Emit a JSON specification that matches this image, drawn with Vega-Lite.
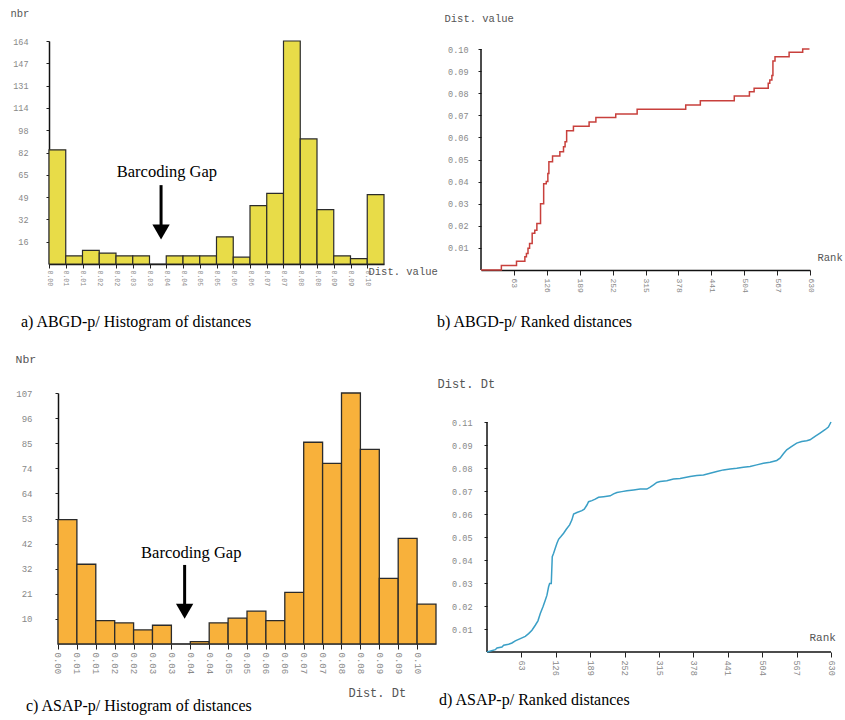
{
  "$schema": "https://vega.github.io/schema/vega-lite/v6.json",
  "padding": {"left": 10, "top": 8, "right": 5, "bottom": 5},
  "background": "white",
  "config": {
    "view": {"stroke": null},
    "font": "Liberation Mono",
    "axis": {
      "grid": false,
      "labelFont": "Liberation Mono",
      "labelColor": "#888888",
      "titleFont": "Liberation Mono",
      "titleFontWeight": "normal",
      "titleColor": "#555555",
      "titleFontSize": 10.5,
      "titleAngle": 0,
      "tickColor": "#222222",
      "domainColor": "#111111",
      "labelOverlap": false,
      "labelFlush": false,
      "tickCount": 40
    },
    "title": {"font": "Liberation Serif", "fontSize": 16, "fontWeight": "normal", "color": "#000000", "orient": "bottom", "anchor": "start"}
  },
  "datasets": {
    "histA": [
      {"bin": 0, "bin_end": 1, "count": 84}, {"bin": 1, "bin_end": 2, "count": 6}, {"bin": 2, "bin_end": 3, "count": 10},
      {"bin": 3, "bin_end": 4, "count": 8}, {"bin": 4, "bin_end": 5, "count": 6}, {"bin": 5, "bin_end": 6, "count": 6},
      {"bin": 6, "bin_end": 7, "count": 0}, {"bin": 7, "bin_end": 8, "count": 6}, {"bin": 8, "bin_end": 9, "count": 6},
      {"bin": 9, "bin_end": 10, "count": 6}, {"bin": 10, "bin_end": 11, "count": 20}, {"bin": 11, "bin_end": 12, "count": 5},
      {"bin": 12, "bin_end": 13, "count": 43}, {"bin": 13, "bin_end": 14, "count": 52}, {"bin": 14, "bin_end": 15, "count": 164},
      {"bin": 15, "bin_end": 16, "count": 92}, {"bin": 16, "bin_end": 17, "count": 40}, {"bin": 17, "bin_end": 18, "count": 6},
      {"bin": 18, "bin_end": 19, "count": 4}, {"bin": 19, "bin_end": 20, "count": 51}
    ],
    "histC": [
      {"bin": 0, "bin_end": 1, "count": 53}, {"bin": 1, "bin_end": 2, "count": 34}, {"bin": 2, "bin_end": 3, "count": 10},
      {"bin": 3, "bin_end": 4, "count": 9}, {"bin": 4, "bin_end": 5, "count": 6}, {"bin": 5, "bin_end": 6, "count": 8},
      {"bin": 6, "bin_end": 7, "count": 0}, {"bin": 7, "bin_end": 8, "count": 1}, {"bin": 8, "bin_end": 9, "count": 9},
      {"bin": 9, "bin_end": 10, "count": 11}, {"bin": 10, "bin_end": 11, "count": 14}, {"bin": 11, "bin_end": 12, "count": 10},
      {"bin": 12, "bin_end": 13, "count": 22}, {"bin": 13, "bin_end": 14, "count": 86}, {"bin": 14, "bin_end": 15, "count": 77},
      {"bin": 15, "bin_end": 16, "count": 107}, {"bin": 16, "bin_end": 17, "count": 83}, {"bin": 17, "bin_end": 18, "count": 28},
      {"bin": 18, "bin_end": 19, "count": 45}, {"bin": 19, "bin_end": 20, "count": 17}
    ],
    "rankB": [
      {"rank": 0, "dist": 0}, {"rank": 39, "dist": 0.002}, {"rank": 68, "dist": 0.004}, {"rank": 84, "dist": 0.006},
      {"rank": 87, "dist": 0.0075}, {"rank": 90, "dist": 0.0098}, {"rank": 93, "dist": 0.012}, {"rank": 98, "dist": 0.0166},
      {"rank": 103, "dist": 0.018}, {"rank": 107, "dist": 0.021}, {"rank": 114, "dist": 0.030}, {"rank": 120, "dist": 0.039},
      {"rank": 125, "dist": 0.040}, {"rank": 128, "dist": 0.0437}, {"rank": 130, "dist": 0.049}, {"rank": 137, "dist": 0.0516},
      {"rank": 151, "dist": 0.0535}, {"rank": 158, "dist": 0.0558}, {"rank": 161, "dist": 0.058}, {"rank": 164, "dist": 0.063},
      {"rank": 177, "dist": 0.065}, {"rank": 207, "dist": 0.067}, {"rank": 220, "dist": 0.069}, {"rank": 258, "dist": 0.0706},
      {"rank": 299, "dist": 0.0727}, {"rank": 392, "dist": 0.0747}, {"rank": 420, "dist": 0.0766}, {"rank": 485, "dist": 0.0787},
      {"rank": 514, "dist": 0.0807}, {"rank": 523, "dist": 0.0822}, {"rank": 550, "dist": 0.0845}, {"rank": 553, "dist": 0.086},
      {"rank": 557, "dist": 0.088}, {"rank": 559, "dist": 0.0946}, {"rank": 563, "dist": 0.0965}, {"rank": 590, "dist": 0.0985},
      {"rank": 616, "dist": 0.100}, {"rank": 629, "dist": 0.100}
    ],
    "rankD": [
      {"rank": 0, "dist": 0}, {"rank": 15.2, "dist": 0.0011}, {"rank": 18.3, "dist": 0.0019}, {"rank": 27.4, "dist": 0.0024},
      {"rank": 30.5, "dist": 0.0032}, {"rank": 39.6, "dist": 0.0037}, {"rank": 45.7, "dist": 0.0043}, {"rank": 51.8, "dist": 0.0053},
      {"rank": 61.0, "dist": 0.0064}, {"rank": 70.1, "dist": 0.0075}, {"rank": 76.2, "dist": 0.0088}, {"rank": 82.3, "dist": 0.0104},
      {"rank": 88.4, "dist": 0.0128}, {"rank": 93.3, "dist": 0.0149}, {"rank": 97.6, "dist": 0.0184}, {"rank": 102.5, "dist": 0.0216},
      {"rank": 106.7, "dist": 0.0248}, {"rank": 109.8, "dist": 0.0272}, {"rank": 112.8, "dist": 0.0312}, {"rank": 114.7, "dist": 0.0328},
      {"rank": 117.7, "dist": 0.0328}, {"rank": 119.5, "dist": 0.0456}, {"rank": 122.0, "dist": 0.0472}, {"rank": 125.0, "dist": 0.0496},
      {"rank": 128.1, "dist": 0.0520}, {"rank": 131.1, "dist": 0.0539}, {"rank": 135.4, "dist": 0.0552}, {"rank": 140.3, "dist": 0.0568},
      {"rank": 145.2, "dist": 0.0587}, {"rank": 151.3, "dist": 0.0608}, {"rank": 155.5, "dist": 0.0632}, {"rank": 158.6, "dist": 0.0660},
      {"rank": 164.7, "dist": 0.0667}, {"rank": 173.8, "dist": 0.0676}, {"rank": 178.1, "dist": 0.0683}, {"rank": 183.0, "dist": 0.0703},
      {"rank": 186.0, "dist": 0.0719}, {"rank": 192.1, "dist": 0.0724}, {"rank": 198.2, "dist": 0.0731}, {"rank": 204.3, "dist": 0.0740},
      {"rank": 213.5, "dist": 0.0743}, {"rank": 225.7, "dist": 0.0747}, {"rank": 231.8, "dist": 0.0756}, {"rank": 237.9, "dist": 0.0763},
      {"rank": 247.0, "dist": 0.0767}, {"rank": 256.2, "dist": 0.0771}, {"rank": 268.4, "dist": 0.0775}, {"rank": 280.6, "dist": 0.0779},
      {"rank": 292.8, "dist": 0.0779}, {"rank": 298.9, "dist": 0.0788}, {"rank": 305.0, "dist": 0.0799}, {"rank": 311.0, "dist": 0.0811},
      {"rank": 317.1, "dist": 0.0815}, {"rank": 329.3, "dist": 0.0819}, {"rank": 341.5, "dist": 0.0827}, {"rank": 353.7, "dist": 0.0830},
      {"rank": 372.0, "dist": 0.0839}, {"rank": 384.2, "dist": 0.0844}, {"rank": 396.4, "dist": 0.0847}, {"rank": 408.6, "dist": 0.0855},
      {"rank": 420.8, "dist": 0.0863}, {"rank": 433.0, "dist": 0.0871}, {"rank": 445.2, "dist": 0.0875}, {"rank": 457.4, "dist": 0.0879},
      {"rank": 469.6, "dist": 0.0884}, {"rank": 481.8, "dist": 0.0887}, {"rank": 494.0, "dist": 0.0895}, {"rank": 506.2, "dist": 0.0903},
      {"rank": 518.4, "dist": 0.0908}, {"rank": 530.6, "dist": 0.0916}, {"rank": 536.7, "dist": 0.0927}, {"rank": 542.8, "dist": 0.0948},
      {"rank": 548.9, "dist": 0.0967}, {"rank": 558.1, "dist": 0.0983}, {"rank": 567.2, "dist": 0.0999}, {"rank": 576.4, "dist": 0.1007},
      {"rank": 585.5, "dist": 0.1010}, {"rank": 591.6, "dist": 0.1015}, {"rank": 600.8, "dist": 0.1031}, {"rank": 609.9, "dist": 0.1047},
      {"rank": 619.0, "dist": 0.1063}, {"rank": 625.2, "dist": 0.1076}, {"rank": 630, "dist": 0.1100}
    ]
  },
  "columns": 2,
  "align": "each",
  "bounds": "flush",
  "spacing": {"row": 123, "column": 45},
  "concat": [
    {
      "width": 335,
      "height": 223,
      "title": {"text": "a) ABGD-p/ Histogram of distances", "dx": 11, "offset": 28},
      "layer": [
        {
          "data": {"name": "histA"},
          "mark": {"type": "rect", "fill": "#E8DC48", "stroke": "#2b2b2b", "strokeWidth": 1.2},
          "encoding": {
            "x": {
              "field": "bin", "type": "quantitative",
              "scale": {"domain": [0, 20], "nice": false, "zero": false},
              "axis": {
                "values": [0,1,2,3,4,5,6,7,8,9,10,11,12,13,14,15,16,17,18,19],
                "labelExpr": "['0.00','0.01','0.01','0.02','0.02','0.03','0.03','0.04','0.04','0.05','0.05','0.06','0.06','0.07','0.07','0.08','0.08','0.09','0.09','0.10'][datum.value]",
                "labelOverlap": false, "labelFlush": false, "tickCount": 40,
                "labelAngle": 90, "labelFontSize": 6.5, "labelPadding": 2, "tickSize": 4,
                "domainWidth": 1.5,
                "title": "Dist. value", "titleX": 319, "titleY": 7, "titleAlign": "left", "titleBaseline": "middle"
              }
            },
            "x2": {"field": "bin_end"},
            "y": {
              "field": "count", "type": "quantitative",
              "scale": {"domain": [0, 164], "nice": false},
              "axis": {
                "values": [16.4, 32.8, 49.2, 65.6, 82, 98.4, 114.8, 131.2, 147.6, 164],
                "labelExpr": "'' + floor(datum.value)",
                "labelOverlap": false, "labelFlush": false, "tickCount": 40,
                "labelFontSize": 8.5, "labelPadding": 18, "tickSize": 3, "domainWidth": 1.5,
                "title": "nbr", "titleX": -39, "titleY": -33, "titleAlign": "left", "titleBaseline": "top"
              }
            },
            "y2": {"datum": 0}
          }
        },
        {
          "data": {"values": [{}]},
          "mark": {"type": "rule", "strokeWidth": 3, "color": "#000000"},
          "encoding": {"x": {"datum": 6.69, "type": "quantitative"}, "y": {"datum": 58, "type": "quantitative"}, "y2": {"datum": 28}}
        },
        {
          "data": {"values": [{}]},
          "mark": {"type": "point", "shape": "triangle-down", "filled": true, "color": "#000000", "opacity": 1, "size": 300},
          "encoding": {"x": {"datum": 6.69, "type": "quantitative"}, "y": {"datum": 23.5, "type": "quantitative"}}
        },
        {
          "data": {"values": [{}]},
          "mark": {"type": "text", "font": "Liberation Serif", "fontSize": 16.5, "color": "#000000", "text": "Barcoding Gap"},
          "encoding": {"x": {"datum": 7.04, "type": "quantitative"}, "y": {"datum": 67.6, "type": "quantitative"}}
        }
      ]
    },
    {
      "width": 329,
      "height": 229,
      "title": {"text": "b) ABGD-p/ Ranked distances", "dx": -7, "offset": 22},
      "layer": [
        {
          "data": {"values": [{}]},
          "mark": {"type": "rule", "strokeWidth": 1.5, "color": "#111111"},
          "encoding": {"x": {"datum": 0, "type": "quantitative"}, "y": {"datum": 0, "type": "quantitative"}, "y2": {"datum": 0.1}}
        },
        {
          "data": {"name": "rankB"},
          "mark": {"type": "line", "interpolate": "step-after", "color": "#C8403C", "strokeWidth": 1.5},
          "encoding": {
            "x": {
              "field": "rank", "type": "quantitative",
              "scale": {"domain": [0, 630], "nice": false, "zero": false},
              "axis": {
                "values": [63, 126, 189, 252, 315, 378, 441, 504, 567, 630],
                "labelOverlap": false, "labelFlush": false, "tickCount": 40,
                "labelAngle": 90, "labelFontSize": 8, "labelPadding": 3, "tickSize": 5, "domainWidth": 1.5,
                "title": "Rank", "titleX": 336, "titleY": -13, "titleAlign": "left", "titleBaseline": "middle"
              }
            },
            "y": {
              "field": "dist", "type": "quantitative",
              "scale": {"domain": [0, 0.10362], "nice": false},
              "axis": {
                "values": [0.01, 0.02, 0.03, 0.04, 0.05, 0.06, 0.07, 0.08, 0.09, 0.10],
                "format": ".2f", "domain": false,
                "labelOverlap": false, "labelFlush": false, "tickCount": 40,
                "labelFontSize": 8.5, "labelPadding": 10, "tickSize": 3,
                "title": "Dist. value", "titleX": -37, "titleY": -23, "titleAlign": "left", "titleBaseline": "middle"
              }
            }
          }
        }
      ]
    },
    {
      "width": 387,
      "height": 251,
      "title": {"text": "c) ASAP-p/ Histogram of distances", "dx": 11, "offset": 0},
      "layer": [
        {
          "data": {"values": [{}]},
          "mark": {"type": "rule", "strokeWidth": 1, "color": "#555555"},
          "encoding": {"x": {"datum": 0, "type": "quantitative"}, "x2": {"datum": 20}, "y": {"datum": 0, "type": "quantitative"}}
        },
        {
          "data": {"name": "histC"},
          "mark": {"type": "rect", "fill": "#F8B13B", "stroke": "#2b2b2b", "strokeWidth": 1.3},
          "encoding": {
            "x": {
              "field": "bin", "type": "quantitative",
              "scale": {"domain": [-0.476, 20], "nice": false, "zero": false},
              "axis": {
                "values": [0,1,2,3,4,5,6,7,8,9,10,11,12,13,14,15,16,17,18,19],
                "labelExpr": "['0.00','0.01','0.01','0.02','0.02','0.03','0.03','0.04','0.04','0.05','0.05','0.06','0.06','0.07','0.07','0.08','0.08','0.09','0.09','0.10'][datum.value]",
                "labelOverlap": false, "labelFlush": false, "tickCount": 40,
                "labelAngle": 90, "labelFontSize": 9, "labelPadding": 3, "tickSize": 5, "domain": false,
                "title": "Dist. Dt", "titleX": 299, "titleY": 48, "titleAlign": "left", "titleBaseline": "middle", "titleFontSize": 12
              }
            },
            "x2": {"field": "bin_end"},
            "y": {
              "field": "count", "type": "quantitative",
              "scale": {"domain": [0, 107], "nice": false},
              "axis": {
                "values": [10.7, 21.4, 32.1, 42.8, 53.5, 64.2, 74.9, 85.6, 96.3, 107],
                "labelExpr": "'' + floor(datum.value)",
                "labelOverlap": false, "labelFlush": false, "tickCount": 40,
                "offset": -9,
                "labelFontSize": 9, "labelPadding": 23, "tickSize": 3, "domainWidth": 1.5,
                "title": "Nbr", "titleX": -43, "titleY": -34, "titleAlign": "left", "titleBaseline": "middle", "titleFontSize": 11.5
              }
            },
            "y2": {"datum": 0}
          }
        },
        {
          "data": {"values": [{}]},
          "mark": {"type": "rule", "strokeWidth": 3, "color": "#000000"},
          "encoding": {"x": {"datum": 6.7, "type": "quantitative"}, "y": {"datum": 33.7, "type": "quantitative"}, "y2": {"datum": 16}}
        },
        {
          "data": {"values": [{}]},
          "mark": {"type": "point", "shape": "triangle-down", "filled": true, "color": "#000000", "opacity": 1, "size": 300},
          "encoding": {"x": {"datum": 6.7, "type": "quantitative"}, "y": {"datum": 14, "type": "quantitative"}}
        },
        {
          "data": {"values": [{}]},
          "mark": {"type": "text", "font": "Liberation Serif", "fontSize": 16.5, "color": "#000000", "text": "Barcoding Gap"},
          "encoding": {"x": {"datum": 7.05, "type": "quantitative"}, "y": {"datum": 38.8, "type": "quantitative"}}
        }
      ]
    },
    {
      "width": 350,
      "height": 259,
      "title": {"text": "d) ASAP-p/ Ranked distances", "dx": 2, "offset": 17},
      "layer": [
        {
          "data": {"values": [{}]},
          "mark": {"type": "rule", "strokeWidth": 1.5, "color": "#111111"},
          "encoding": {"x": {"datum": 0, "type": "quantitative"}, "y": {"datum": 0, "type": "quantitative"}, "y2": {"datum": 0.11}}
        },
        {
          "data": {"values": [{}]},
          "mark": {"type": "rule", "strokeWidth": 1.5, "color": "#111111"},
          "encoding": {"x": {"datum": 0, "type": "quantitative"}, "x2": {"datum": 630}, "y": {"datum": 0, "type": "quantitative"}}
        },
        {
          "data": {"name": "rankD"},
          "mark": {"type": "line", "color": "#3A9FC6", "strokeWidth": 1.5},
          "encoding": {
            "x": {
              "field": "rank", "type": "quantitative",
              "scale": {"domain": [-11, 630], "nice": false, "zero": false},
              "axis": {
                "values": [63, 126, 189, 252, 315, 378, 441, 504, 567, 630],
                "labelOverlap": false, "labelFlush": false, "tickCount": 40,
                "labelAngle": 90, "labelFontSize": 8.5, "labelPadding": 3, "tickSize": 5, "domain": false,
                "title": "Rank", "titleX": 328, "titleY": -15, "titleAlign": "left", "titleBaseline": "middle", "titleFontSize": 11
              }
            },
            "y": {
              "field": "dist", "type": "quantitative",
              "scale": {"domain": [0, 0.12387], "nice": false},
              "axis": {
                "values": [0.011, 0.022, 0.033, 0.044, 0.055, 0.066, 0.077, 0.088, 0.099, 0.11],
                "labelExpr": "['0.01','0.02','0.03','0.04','0.05','0.06','0.07','0.08','0.09','0.11'][round(datum.value / 0.011) - 1]",
                "labelOverlap": false, "labelFlush": false, "tickCount": 40,
                "offset": -6, "domain": false,
                "labelFontSize": 8.5, "labelPadding": 12, "tickSize": 3,
                "title": "Dist. Dt", "titleX": -50, "titleY": -10, "titleAlign": "left", "titleBaseline": "middle", "titleFontSize": 12
              }
            }
          }
        }
      ]
    }
  ]
}
